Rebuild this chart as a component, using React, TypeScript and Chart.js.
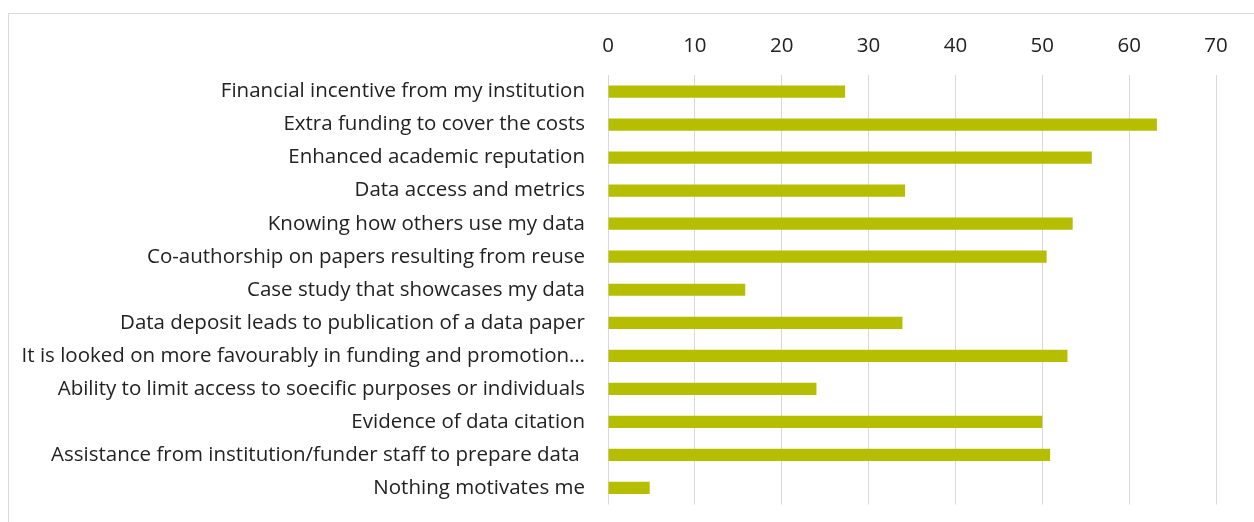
import React, { useEffect, useRef } from "react";
import { Chart, registerables } from "chart.js";

Chart.register(...registerables);

const categories: string[] = [
  "Financial incentive from my institution",
  "Extra funding to cover the costs",
  "Enhanced academic reputation",
  "Data access and metrics",
  "Knowing how others use my data",
  "Co-authorship on papers resulting from reuse",
  "Case study that showcases my data",
  "Data deposit leads to publication of a data paper",
  "It is looked on more favourably in funding and promotion…",
  "Ability to limit access to soecific purposes or individuals",
  "Evidence of data citation",
  "Assistance from institution/funder staff to prepare data ",
  "Nothing motivates me",
];

const values: number[] = [27.3, 63.2, 55.7, 34.2, 53.5, 50.5, 15.8, 33.9, 52.9, 24.0, 50.0, 50.9, 4.8];

const xMin = 0;
const xMax = 70;
const xStep = 10;

const FONT = "'Open Sans', sans-serif";

export default function App() {
  const ref = useRef<HTMLCanvasElement | null>(null);

  useEffect(() => {
    if (!ref.current) return;
    const chart = new Chart(ref.current, {
      type: "bar",
      data: {
        labels: categories,
        datasets: [
          {
            data: values,
            backgroundColor: "#b5be00",
            borderWidth: 0,
            barPercentage: 0.37,
            categoryPercentage: 1,
          },
        ],
      },
      options: {
        indexAxis: "y",
        responsive: false,
        animation: false,
        layout: { padding: { left: 0, right: 38, top: 0, bottom: 17.5 } },
        plugins: {
          legend: { display: false },
          tooltip: { enabled: false },
        },
        scales: {
          x: {
            position: "top",
            min: xMin,
            max: xMax,
            ticks: {
              stepSize: xStep,
              color: "#222",
              font: { family: FONT, size: 20.5 },
              padding: 17,
            },
            grid: { color: "#d9d9d9", lineWidth: 1, drawTicks: false },
            border: { display: false },
            afterFit: (s: any) => {
              s.height = 61;
            },
          },
          y: {
            ticks: {
              color: "#222",
              font: { family: FONT, size: 20.5 },
              padding: 0,
              autoSkip: false,
            },
            grid: { display: false, drawTicks: true, tickLength: 23 },
            border: { display: false },
            afterFit: (s: any) => {
              s.width = 599;
            },
          },
        },
      },
    });
    return () => chart.destroy();
  }, []);

  return (
    <div
      style={{
        position: "fixed",
        left: 8,
        top: 13,
        width: 1246,
        height: 509,
        borderTop: "1px solid #d9d9d9",
        borderLeft: "1px solid #d9d9d9",
        background: "#fff",
      }}
    >
      <canvas ref={ref} width={1245} height={508} style={{ display: "block" }} />
    </div>
  );
}
